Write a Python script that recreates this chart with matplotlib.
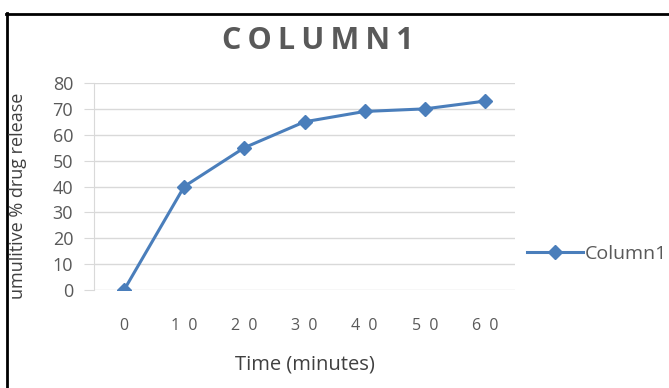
import matplotlib.pyplot as plt
import matplotlib as mp
from matplotlib.lines import Line2D

mp.rcParams['font.family'] = ['Open Sans', 'DejaVu Sans']

times = ['0', '10', '20', '30', '40', '50', '60']
release = [0, 40, 55, 65, 69, 70, 73]
yticks = [0, 10, 20, 30, 40, 50, 60, 70, 80]

grey = '#595959'
blue = '#4a7ebb'

fig = plt.figure(figsize=(6.69, 3.88), dpi=100)
ax = fig.add_axes((94 / 669, 98 / 388, 421 / 669, 207 / 388))

pos = list(range(len(times)))
ax.plot(pos, release, color=blue, lw=2.2, marker='D', ms=7,
        label='Column1', solid_joinstyle='round')

ax.set_xlim(-0.5, len(times) - 0.5)
ax.set_ylim(0, 80)
ax.set_yticks(yticks)
ax.set_xticks(pos)
# spaced-out digits on the category axis
ax.set_xticklabels(['  '.join(t) for t in times])
ax.grid(axis='y', color='#d9d9d9', lw=1)
ax.set_axisbelow(True)

for s in ['top', 'right', 'bottom']:
    ax.spines[s].set_visible(False)
ax.spines['left'].set_color('#d9d9d9')
ax.tick_params(axis='y', length=7, color='#d9d9d9', labelsize=13,
               labelcolor=grey, pad=8)
ax.tick_params(axis='x', length=0, labelsize=11.5, labelcolor=grey, pad=20)

ax.set_xlabel('Time (minutes)', fontsize=14.5, color='#404040', labelpad=15)
fig.text(0.027, 0.495, 'umulitive % drug release', rotation=90,
         ha='center', va='center', fontsize=13, color='#404040')

fig.text(0.475, 0.895, '\u2009'.join('COLUMN1'), ha='center', va='center',
         fontsize=22, fontweight='bold', color=grey)

leg = ax.legend(loc='center left', bbox_to_anchor=((527 - 94) / 421, 0.174),
                frameon=False, fontsize=14, handlelength=2.9,
                handletextpad=0.05, borderpad=0, borderaxespad=0,
                labelcolor=grey)

# outer frame, cut off on the right and bottom
fig.add_artist(Line2D([7 / 669, 7 / 669], [0, 1 - 13 / 388], color='black',
                      lw=2, transform=fig.transFigure))
fig.add_artist(Line2D([6 / 669, 1], [1 - 14 / 388, 1 - 14 / 388],
                      color='black', lw=2, transform=fig.transFigure))

fig.savefig('out.png', dpi=100)
